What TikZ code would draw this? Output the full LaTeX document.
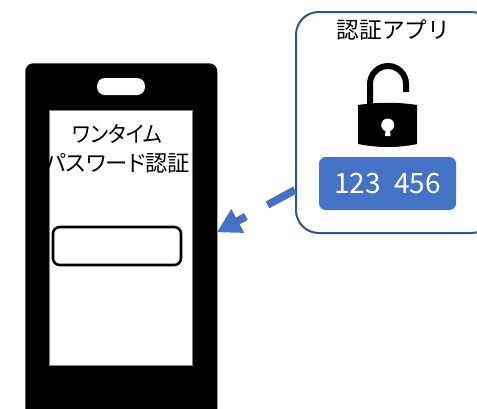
\documentclass[tikz,border=0pt]{standalone}
\usepackage{fontspec}
\setmainfont{Noto Sans CJK JP}
\newfontfamily\kanafont[RawFeature=+palt]{Noto Sans CJK JP}
\newfontfamily\narrowkana[RawFeature=+palt,FakeStretch=0.91]{Noto Sans CJK JP}
\usetikzlibrary{positioning,arrows.meta}
\definecolor{appblue}{HTML}{2F5597}
\definecolor{codeblue}{HTML}{4472C4}
\tikzset{
 phonebody/.style
  = {rectangle, fill=black, rounded corners=6pt, minimum width=144pt, minimum height=270pt, inner sep=0pt},
 screen/.style
  = {rectangle, fill=white, draw=gray, line width=0.4pt, minimum width=107.25pt, minimum height=191.25pt, inner sep=0pt},
 speaker/.style
  = {rectangle, fill=white, rounded corners=6pt, minimum width=36pt, minimum height=12.75pt, inner sep=0pt},
 inputbox/.style
  = {rectangle, draw=black, fill=white, line width=1.9pt, rounded corners=5pt, minimum width=96pt, minimum height=28.5pt, inner sep=0pt},
 appbox/.style
  = {rectangle, draw=appblue, fill=white, line width=1.5pt, rounded corners=17pt, minimum width=148.5pt, minimum height=165.75pt, inner sep=0pt},
 codebox/.style
  = {rectangle, fill=codeblue, rounded corners=5pt, minimum width=102.75pt, minimum height=39.75pt, inner sep=0pt, text=white, font=\fontsize{21}{24}\selectfont},
 caption/.style
  = {inner sep=0pt, align=center, font=\kanafont\fontsize{16.7}{21.75}\selectfont},
 apptext/.style
  = {inner sep=0pt, font=\fontsize{17}{20}\selectfont},
 dasharrow/.style
  = {draw=codeblue, line width=5.8pt, dash pattern=on 23.5pt off 18.3pt, -{Triangle[length=18pt,width=19pt]}},
}
\begin{document}
\begin{tikzpicture}[x=0.75pt,y=-0.75pt]
\useasboundingbox (0,0) rectangle (477,408);

% Phone
\node[phonebody,anchor=north west] (phone) at (25,63) {};
\node[screen,anchor=north west] (screen) at (49,110) {};
\node[speaker] (slot) at (121,86.5) {};
\node[inputbox] (input) at (117,246) {};
\node[caption,text width=150pt] (title) at (117.5,149) {{\narrowkana ワンタイム}\\パスワード認証};

% Authenticator app
\node[appbox,anchor=north west] (app) at (295,11) {};
\node[apptext] (apptitle) at (393.5,30) {認証アプリ};
\node[codebox] (code) at (387.5,183.5) {123\hspace{10pt}456};

% Open padlock
\fill (358,105) .. controls (378,102) and (398,102) .. (417,105)
      -- (417,144) .. controls (398,148) and (378,148) .. (358,144) -- cycle;
\draw[line width=4.5pt] (370,106) -- (370,84) arc[start angle=180,end angle=360,radius=18] -- (406,92);
\fill[white] (387.7,125) circle[radius=6.5];
\fill[white] (386,125) -- (389.5,125) -- (390.5,136) -- (385,136) -- cycle;

% Arrow from app to phone
\coordinate (tip) at (216.7,232.3);
\coordinate (tail) at (app.west |- 0,190);
\draw[dasharrow] (tail) -- (tip);

\end{tikzpicture}
\end{document}
